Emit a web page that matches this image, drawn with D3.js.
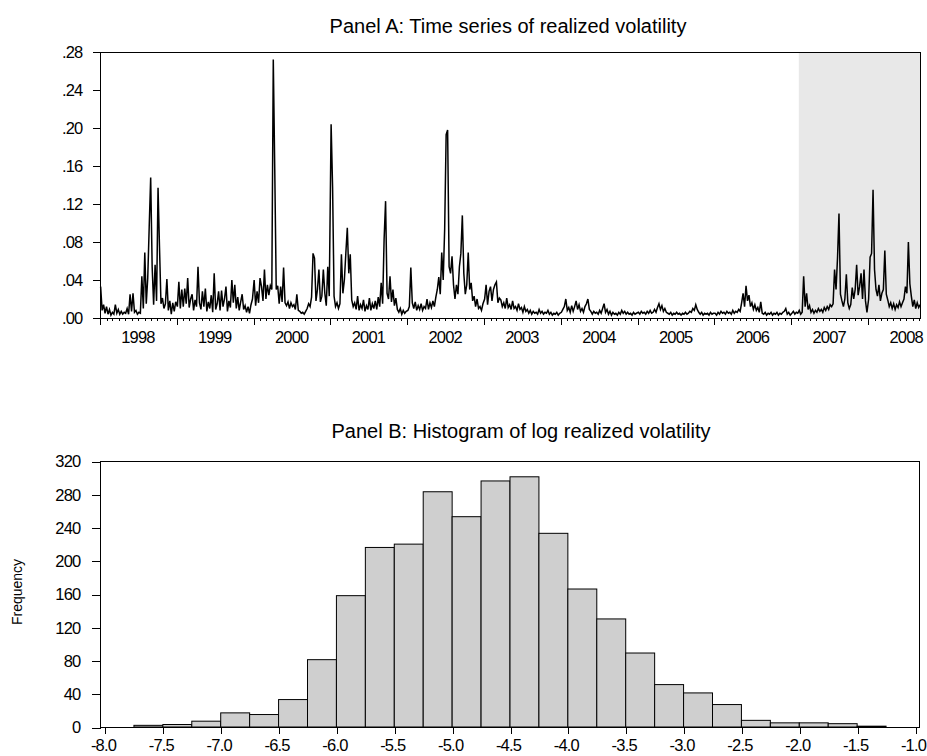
<!DOCTYPE html>
<html>
<head>
  <title>Realized volatility</title>
  <script src="https://d3js.org/d3.v7.min.js"></script>
  <style>
    body { margin: 0; background: #fff; }
    svg text { font-family: "Liberation Sans", Arial, sans-serif; fill: #000; }
    .title { font-size: 20px; }
    .axis text { font-size: 16.5px; letter-spacing: -0.8px; }
    .axis path { display: none; }
    .axis line { stroke: #000; shape-rendering: crispEdges; }
  </style>
</head>
<body>
  <div id="chart"></div>
  <script>
    // Panel A: weekly readings of realized volatility, one array per year
    const rv1998 = [.033,.008,.014,.005,.012,.004,.009,.003,.006,.004, .014,.005,.009,.004,.007,.004,.006,.005,.010,.004,
                    .025,.007,.026,.006,.008,.004,.006,.005,.044,.010, .069,.015,.042,.096,.148,.054,.014,.056,.018,.137,
                    .074,.015,.021,.010,.015,.041,.008,.018,.004,.016, .007,.017];
    const rv1999 = [.012,.038,.010,.030,.012,.031,.015,.042,.011,.020, .025,.008,.019,.012,.054,.016,.009,.028,.012,.031,
                    .007,.017,.010,.024,.006,.047,.009,.015,.028,.008, .029,.012,.020,.033,.007,.018,.011,.040,.016,.035,
                    .010,.022,.008,.017,.025,.009,.013,.006,.012,.005, .014,.020];
    const rv2000 = [.040,.013,.028,.016,.042,.033,.018,.051,.020,.035, .024,.034,.030,.272,.156,.030,.034,.015,.033,.017,
                    .053,.016,.013,.017,.010,.016,.012,.014,.009,.025, .008,.007,.005,.006,.004,.007,.010,.015,.012,.022,
                    .068,.063,.018,.030,.051,.017,.023,.051,.026,.013, .054,.023];
    const rv2001 = [.204,.138,.023,.012,.016,.010,.015,.067,.026,.040, .068,.095,.047,.067,.019,.012,.016,.009,.023,.008,
                    .014,.010,.019,.007,.013,.009,.021,.008,.015,.010, .018,.009,.022,.012,.037,.015,.083,.123,.026,.020,
                    .044,.017,.030,.013,.021,.009,.006,.010,.004,.008, .005,.007];
    const rv2002 = [.008,.012,.053,.016,.010,.017,.008,.013,.009,.015, .008,.012,.010,.020,.009,.016,.011,.018,.012,.022,
                    .030,.043,.025,.069,.040,.094,.193,.198,.054,.047, .065,.035,.020,.035,.025,.054,.068,.108,.047,.025,
                    .035,.069,.030,.037,.018,.023,.012,.020,.010,.012, .008,.015];
    const rv2003 = [.020,.035,.014,.028,.033,.018,.030,.035,.038,.016, .021,.019,.012,.016,.010,.021,.011,.014,.009,.018,
                    .010,.012,.008,.015,.009,.011,.006,.012,.007,.009, .005,.008,.004,.007,.005,.006,.004,.009,.005,.007,
                    .004,.006,.005,.008,.004,.006,.003,.005,.004,.006, .003,.005];
    const rv2004 = [.006,.009,.012,.020,.008,.011,.006,.013,.007,.012, .018,.009,.014,.007,.010,.006,.012,.015,.020,.009,
                    .007,.004,.007,.005,.006,.004,.008,.005,.010,.015, .006,.009,.004,.007,.003,.006,.004,.005,.003,.006,
                    .004,.008,.005,.007,.004,.006,.004,.005,.003,.006, .004,.005];
    const rv2005 = [.006,.004,.007,.005,.006,.004,.007,.005,.008,.005, .006,.009,.006,.011,.015,.009,.013,.007,.010,.006,
                    .005,.004,.006,.003,.005,.004,.006,.004,.005,.003, .005,.004,.006,.004,.005,.007,.006,.010,.008,.014,
                    .009,.006,.004,.006,.003,.005,.004,.005,.003,.006, .004,.005];
    const rv2006 = [.005,.003,.006,.004,.007,.005,.006,.004,.007,.005, .006,.004,.008,.005,.007,.006,.009,.007,.016,.026,
                    .012,.034,.018,.024,.012,.016,.009,.014,.008,.011, .006,.017,.005,.004,.006,.003,.005,.004,.006,.003,
                    .005,.004,.006,.003,.005,.004,.006,.007,.010,.004, .006,.003];
    const rv2007 = [.005,.007,.004,.006,.005,.008,.004,.006,.044,.012, .026,.009,.013,.006,.009,.005,.008,.006,.010,.007,
                    .009,.006,.011,.008,.012,.009,.014,.012,.015,.051, .030,.063,.110,.025,.018,.012,.020,.046,.016,.010,
                    .014,.032,.020,.030,.056,.024,.033,.047,.020,.051, .018,.006];
    const rv2008 = [.020,.064,.068,.135,.051,.030,.023,.035,.018,.026, .030,.071,.025,.019,.012,.016,.010,.015,.009,.014,
                    .011,.017,.012,.016,.020,.033,.026,.080,.036,.023, .012,.019,.010,.016,.011,.014];
    const rvYears = [1998, 1999, 2000, 2001, 2002, 2003, 2004, 2005, 2006, 2007, 2008];
    const rvByYear = [rv1998, rv1999, rv2000, rv2001, rv2002, rv2003, rv2004, rv2005, rv2006, rv2007, rv2008];
    const rvTicks = [0, .04, .08, .12, .16, .20, .24, .28];
    const shadeStart = new Date(2007, 1, 6);

    // Panel B: histogram of log realized volatility (bins of width 0.25)
    const binStarts = [-7.75, -7.5, -7.25, -7.0, -6.75, -6.5, -6.25, -6.0, -5.75, -5.5, -5.25, -5.0, -4.75,
                       -4.5, -4.25, -4.0, -3.75, -3.5, -3.25, -3.0, -2.75, -2.5, -2.25, -2.0, -1.75, -1.5];
    const binCounts = [2, 3, 7, 17, 15, 33, 81, 158, 216, 220, 283, 253, 296,
                       301, 233, 166, 130, 89, 51, 41, 27, 8, 5, 5, 4, 1];
    const histXTicks = [-8.0, -7.5, -7.0, -6.5, -6.0, -5.5, -5.0, -4.5, -4.0, -3.5, -3.0, -2.5, -2.0, -1.5, -1.0];
    const histYTicks = [0, 40, 80, 120, 160, 200, 240, 280, 320];

    const svg = d3.select("#chart")
      .append("svg")
        .attr("width", 927)
        .attr("height", 756);

    // ---------- Panel A ----------
    const series = [];
    rvYears.forEach((yr, k) => {
      rvByYear[k].forEach((v, i) => series.push({ date: new Date(yr, 0, 4 + 7 * i), v: v }));
    });

    const xA = d3.scaleTime().domain([new Date(1998, 0, 1), new Date(2008, 8, 9)]).range([100, 921]);
    const yA = d3.scaleLinear().domain([0, 0.28]).range([318, 52]);

    svg.append("text")
      .attr("class", "title")
      .attr("x", 508)
      .attr("y", 33)
      .attr("text-anchor", "middle")
      .text("Panel A: Time series of realized volatility");

    // shaded out-of-sample period
    svg.append("rect")
      .attr("x", xA(shadeStart))
      .attr("y", yA(0.28))
      .attr("width", xA.range()[1] - xA(shadeStart))
      .attr("height", yA(0) - yA(0.28))
      .attr("fill", "#e8e8e8");

    const line = d3.line()
      .x(d => xA(d.date))
      .y(d => yA(d.v));

    svg.append("path")
      .datum(series)
      .attr("fill", "none")
      .attr("stroke", "#000")
      .attr("stroke-width", 1.5)
      .attr("stroke-linejoin", "miter")
      .attr("d", line);

    svg.append("rect")
      .attr("x", 100.5)
      .attr("y", 52.5)
      .attr("width", 820)
      .attr("height", 266)
      .attr("fill", "none")
      .attr("stroke", "#000");

    svg.append("g")
      .attr("class", "axis")
      .attr("transform", "translate(100.5,0)")
      .call(d3.axisLeft(yA).tickValues(rvTicks).tickSize(8).tickPadding(10)
        .tickFormat(d => d3.format(".2f")(d).replace(/^0/, "")));

    // monthly minor ticks, yearly major ticks, year labels mid-year
    svg.append("g")
      .attr("class", "axis")
      .attr("transform", "translate(0,318)")
      .call(d3.axisBottom(xA).ticks(d3.timeMonth.every(1)).tickSize(3).tickFormat(""));

    svg.append("g")
      .attr("class", "axis")
      .attr("transform", "translate(0,318)")
      .call(d3.axisBottom(xA).ticks(d3.timeYear.every(1)).tickSize(7).tickFormat(""));

    svg.append("g")
      .attr("class", "axis")
      .attr("transform", "translate(0,318)")
      .call(d3.axisBottom(xA).tickValues(rvYears.map(y => new Date(y, 5, 28))).tickSize(0)
        .tickFormat(d3.timeFormat("%Y")))
      .selectAll("text")
        .attr("y", 25)
        .attr("dy", null);

    // ---------- Panel B ----------
    const xB = d3.scaleLinear().domain([-8.0432, -0.9568]).range([100, 920]);
    const yB = d3.scaleLinear().domain([0, 320]).range([727, 461]);

    svg.append("text")
      .attr("class", "title")
      .attr("x", 521)
      .attr("y", 438)
      .attr("text-anchor", "middle")
      .text("Panel B: Histogram of log realized volatility");

    svg.append("g")
      .selectAll("rect")
      .data(binStarts)
      .join("rect")
        .attr("x", d => xB(d))
        .attr("y", (d, i) => yB(binCounts[i]))
        .attr("width", d => xB(d + 0.25) - xB(d))
        .attr("height", (d, i) => yB(0) - yB(binCounts[i]))
        .attr("fill", "#cfcfcf")
        .attr("stroke", "#000")
        .attr("stroke-width", 1);

    svg.append("rect")
      .attr("x", 100.5)
      .attr("y", 461.5)
      .attr("width", 819)
      .attr("height", 266)
      .attr("fill", "none")
      .attr("stroke", "#000");

    svg.append("g")
      .attr("class", "axis")
      .attr("transform", "translate(100.5,0.5)")
      .call(d3.axisLeft(yB).tickValues(histYTicks).tickSize(9).tickPadding(11));

    svg.append("g")
      .attr("class", "axis")
      .attr("transform", "translate(0.5,727.5)")
      .call(d3.axisBottom(xB).tickValues(histXTicks).tickSize(6).tickFormat(d => d.toFixed(1)))
      .selectAll("text")
        .attr("y", 23)
        .attr("dx", -2.5)
        .attr("dy", null);

    svg.append("text")
      .attr("transform", "translate(22,592) rotate(-90)")
      .attr("text-anchor", "middle")
      .attr("font-size", 14)
      .text("Frequency");
  </script>
</body>
</html>
